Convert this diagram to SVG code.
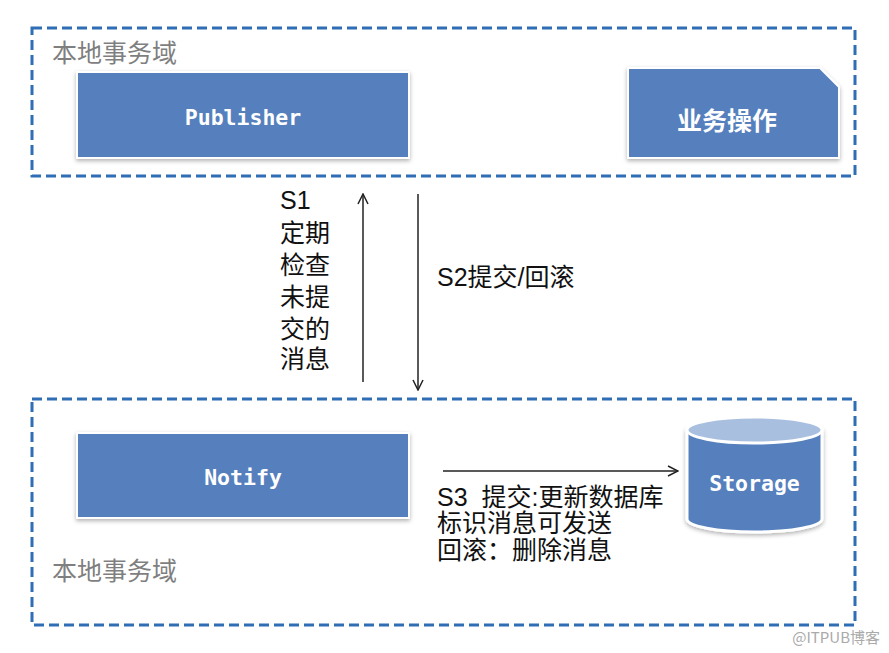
<svg xmlns="http://www.w3.org/2000/svg" width="889" height="653" viewBox="0 0 889 653">
<defs>
<style>
.domain{fill:none;stroke:#2f6db5;stroke-width:3;stroke-dasharray:10 5}
.dlabel{font-family:"Noto Sans CJK SC","Noto Sans",sans-serif;font-size:25px;fill:#7f7f7f}
.box{fill:#5580bd;stroke:#ffffff;stroke-width:2;filter:url(#sh)}
.btxt{font-family:"DejaVu Sans Mono","Liberation Mono",monospace;font-weight:bold;font-size:21.5px;fill:#ffffff;text-anchor:middle;dominant-baseline:central}
.ctxt{font-family:"Noto Sans CJK SC",sans-serif;font-weight:bold;font-size:25px;fill:#ffffff;text-anchor:middle;dominant-baseline:central}
.lbl{font-family:"Liberation Sans","Noto Sans CJK SC",sans-serif;font-size:25px;fill:#111111}
.conn{stroke:#222222;stroke-width:1.5;fill:none;marker-end:url(#ah)}
</style>
<marker id="ah" viewBox="0 0 12 12" refX="11" refY="6" markerWidth="12" markerHeight="12" markerUnits="userSpaceOnUse" orient="auto">
<path d="M1,1 L11,6 L1,11" fill="none" stroke="#222222" stroke-width="1.5"/>
</marker>
<filter id="sh" x="-10%" y="-10%" width="120%" height="130%">
<feDropShadow dx="0" dy="2" stdDeviation="2" flood-color="#000000" flood-opacity="0.3"/>
</filter>
</defs>
<rect width="889" height="653" fill="#ffffff"/>
<g id="domain-top">
<rect class="domain" x="32" y="28" width="823" height="148"/>
<text class="dlabel" x="52" y="62">本地事务域</text>
</g>
<g id="domain-bottom">
<rect class="domain" x="32" y="399" width="823" height="226"/>
<text class="dlabel" x="52" y="580">本地事务域</text>
</g>
<g id="publisher">
<rect class="box" x="77" y="72" width="332" height="86"/>
<text class="btxt" x="243" y="117">Publisher</text>
</g>
<g id="business">
<path class="box" d="M628,68 L820,68 L839,87 L839,158 L628,158 Z"/>
<text class="ctxt" x="727" y="119">业务操作</text>
</g>
<g id="notify">
<rect class="box" x="77" y="433" width="332" height="85"/>
<text class="btxt" x="243" y="477">Notify</text>
</g>
<g id="storage">
<path d="M687,430 L687,519 A67.5,13 0 0 0 822,519 L822,430 Z" fill="#5580bd" stroke="#ffffff" stroke-width="3" filter="url(#sh)"/>
<ellipse cx="754.5" cy="430" rx="67.5" ry="13" fill="#a9bfe0" stroke="#ffffff" stroke-width="3"/>
<text class="btxt" x="754.5" y="483">Storage</text>
</g>
<g id="connectors">
<line class="conn" x1="363" y1="382" x2="363" y2="194"/>
<line class="conn" x1="418" y1="194" x2="418" y2="390"/>
<line class="conn" x1="443" y1="471" x2="678" y2="471"/>
</g>
<g id="labels">
<text class="lbl" x="280">
<tspan x="280" y="209">S1</tspan>
<tspan x="280" y="242">定期</tspan>
<tspan x="280" y="274">检查</tspan>
<tspan x="280" y="306">未提</tspan>
<tspan x="280" y="338">交的</tspan>
<tspan x="280" y="368">消息</tspan>
</text>
<text class="lbl" x="437" y="286">S2提交/回滚</text>
<text class="lbl" xml:space="preserve"><tspan x="437" y="506">S3  提交:更新数据库</tspan><tspan x="437" y="532">标识消息可发送</tspan><tspan x="437" y="559">回滚：删除消息</tspan></text>
<text x="880" y="643" text-anchor="end" font-family="Noto Sans CJK SC,sans-serif" font-size="15" fill="#aaaaaa">@ITPUB博客</text>
</g>
</svg>
